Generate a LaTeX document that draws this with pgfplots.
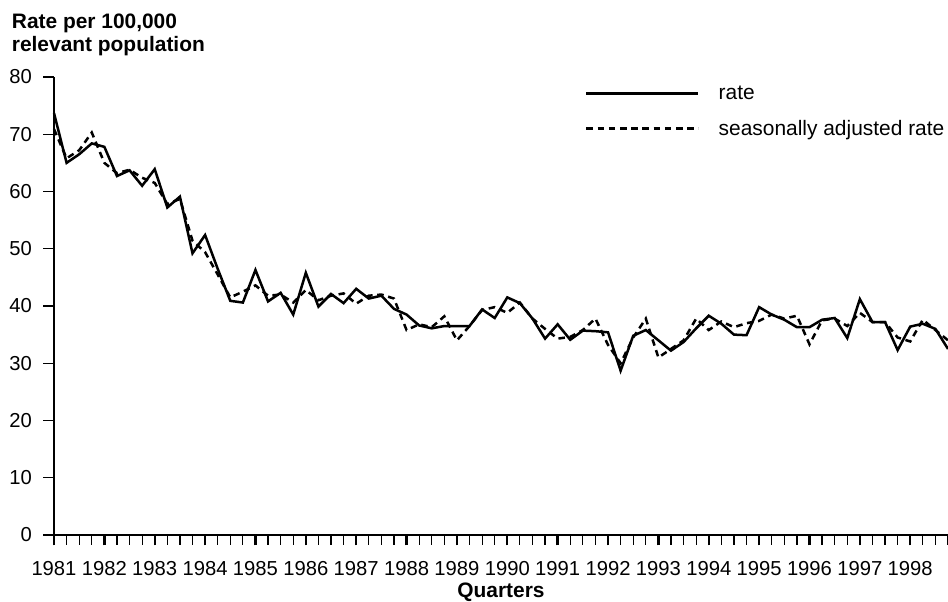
\documentclass[border=0pt]{standalone}
\usepackage{fontspec}
\setmainfont{Liberation Sans}
\usepackage{pgfplots}
\pgfplotsset{compat=1.18}
\pgfplotstableread{
q rate adj
0 73.7 70.9
1 65.0 65.8
2 66.5 67.2
3 68.4 70.3
4 67.8 65.0
5 62.7 63.2
6 63.7 63.8
7 61.0 62.4
8 63.9 61.5
9 57.2 57.8
10 59.1 58.7
11 49.2 51.4
12 52.4 49.4
13 46.5 45.5
14 40.9 41.5
15 40.6 42.5
16 46.3 43.6
17 40.8 41.8
18 42.3 42.0
19 38.5 40.6
20 45.8 42.8
21 39.9 41.0
22 42.1 41.8
23 40.5 42.2
24 43.0 40.4
25 41.3 41.8
26 41.8 42.0
27 39.5 41.3
28 38.5 35.8
29 36.6 36.8
30 36.1 36.3
31 36.5 38.2
32 36.5 34.0
33 36.5 36.5
34 39.4 39.3
35 37.9 39.8
36 41.5 38.8
37 40.5 40.6
38 37.8 37.8
39 34.3 36.0
40 36.8 34.3
41 34.1 34.6
42 35.7 35.8
43 35.6 37.8
44 35.4 33.2
45 28.7 30.0
46 34.8 34.5
47 35.8 37.8
48 34.0 31.0
49 32.2 32.5
50 33.7 34.0
51 36.1 37.8
52 38.3 35.8
53 36.9 37.3
54 35.0 36.3
55 34.9 37.0
56 39.8 37.4
57 38.5 38.5
58 37.6 37.8
59 36.3 38.3
60 36.3 33.3
61 37.6 37.5
62 37.9 37.8
63 34.4 36.5
64 41.2 38.8
65 37.2 37.2
66 37.2 37.2
67 32.3 34.5
68 36.4 33.8
69 36.9 37.6
70 36.0 35.8
71 32.5 34.0
}\datatable
\begin{document}
\begin{tikzpicture}
\path[use as bounding box] (0bp,0bp) rectangle (948bp,602bp);
\begin{axis}[
  at={(54bp,67bp)}, anchor=south west,
  scale only axis, width=894bp, height=458bp,
  xmin=0, xmax=71, ymin=0, ymax=80,
  clip=false,
  axis x line=bottom, axis y line=left,
  axis line style={-, line width=1.3bp},
  xtick={0,4,...,68},
  xticklabels={1981,1982,1983,1984,1985,1986,1987,1988,1989,1990,1991,1992,1993,1994,1995,1996,1997,1998},
  minor xtick={0,...,71},
  ytick={0,10,...,80},
  tick align=outside,
  major tick length=10.5bp, minor tick length=10bp,
  every major x tick/.style={line width=2.4bp, black},
  every minor x tick/.style={line width=1.2bp, black},
  every major y tick/.style={line width=1.3bp, black},
  /pgf/number format/assume math mode=true,
  ticklabel style={font=\fontsize{20.3}{24}\selectfont},
  yticklabel style={xshift=-8bp},
  xticklabel style={yshift=-12bp},
  legend style={draw=none, fill=none, at={(rel axis cs:0.594,0.985)}, anchor=north west,
    inner sep=0pt, font=\fontsize{21}{25}\selectfont, row sep=15bp,
    /tikz/every odd column/.append style={column sep=17bp}},
  legend image code/.code={\draw[#1] (0bp,0bp) -- (112bp,0bp);},
  legend cell align=left,
]
\addplot[black, line width=2.5bp] table[x=q, y=rate] {\datatable};
\addplot[black, line width=2.5bp, dash pattern=on 6.5bp off 4.7bp] table[x=q, y=adj] {\datatable};
\legend{rate, seasonally adjusted rate}
\end{axis}
\node[anchor=base west, font=\bfseries\fontsize{21}{25}\selectfont, inner sep=0pt] at (11.7bp,573bp) {Rate per 100,000};
\node[anchor=base west, font=\bfseries\fontsize{21}{25}\selectfont, inner sep=0pt] at (11.7bp,550bp) {relevant population};
\node[anchor=base, font=\bfseries\fontsize{21}{25}\selectfont, inner sep=0pt] at (501bp,5bp) {Quarters};
\end{tikzpicture}
\end{document}
